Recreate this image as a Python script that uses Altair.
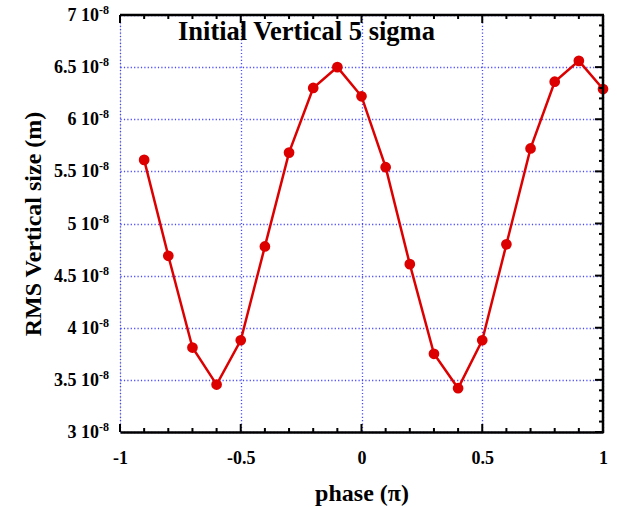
import altair as alt
import pandas as pd

# ---- data ----
phase = [-0.9, -0.8, -0.7, -0.6, -0.5, -0.4, -0.3, -0.2, -0.1, 0.0,
         0.1, 0.2, 0.3, 0.4, 0.5, 0.6, 0.7, 0.8, 0.9, 1.0]
rms_size = [5.61e-8, 4.69e-8, 3.81e-8, 3.455e-8, 3.88e-8, 4.78e-8, 5.68e-8, 6.30e-8,
            6.50e-8, 6.22e-8, 5.54e-8, 4.61e-8, 3.75e-8, 3.42e-8, 3.88e-8, 4.80e-8,
            5.72e-8, 6.36e-8, 6.56e-8, 6.29e-8]

x_major = [-1, -0.5, 0, 0.5, 1]
x_minor = [-0.9, -0.8, -0.7, -0.6, -0.4, -0.3, -0.2, -0.1,
           0.1, 0.2, 0.3, 0.4, 0.6, 0.7, 0.8, 0.9]
y_major = [3e-8, 3.5e-8, 4e-8, 4.5e-8, 5e-8, 5.5e-8, 6e-8, 6.5e-8, 7e-8]
y_label_main = ["3 10", "3.5 10", "4 10", "4.5 10", "5 10", "5.5 10", "6 10", "6.5 10", "7 10"]
y_label_exp = ["-8"] * 9
y_minor = [v * 1e-9 for v in range(31, 70) if v % 5 != 0]

title_text = ["Initial Vertical 5 sigma"]
x_title = "phase (\u03c0)"
y_title = "RMS Vertical size (m)"

FONT = "Liberation Serif"
RED = "#dd0000"
GRID = "#2a2aff"
W, H = 483, 417

df = pd.DataFrame({"phase": phase, "size": rms_size})
xs = alt.Scale(domain=[-1, 1], nice=False, zero=False)
ys = alt.Scale(domain=[3e-8, 7e-8], nice=False, zero=False)

x_axis = alt.Axis(values=x_major, ticks=False, domainColor="black", domainWidth=2.5,
                  labelFont=FONT, labelFontSize=18, labelFontWeight="bold", labelColor="black",
                  labelPadding=17, labelExpr="'' + datum.value", labelFlush=False,
                  title=x_title, titleFont=FONT, titleFontSize=24, titleFontWeight="bold",
                  titleColor="black", titleX=W / 2, titleY=68, titleBaseline="alphabetic",
                  grid=True, gridColor=GRID, gridDash=[1.2, 2.2], gridWidth=1.3, gridOpacity=0.85)
y_axis = alt.Axis(values=y_major, ticks=False, domain=False, labels=False,
                  title=y_title, titleFont=FONT, titleFontSize=24, titleFontWeight="bold",
                  titleColor="black", titleX=-80, titleY=H / 2, titleBaseline="alphabetic",
                  titleAngle=270,
                  grid=True, gridColor=GRID, gridDash=[1.2, 2.2], gridWidth=1.3, gridOpacity=0.85)

line = alt.Chart(df).mark_line(color=RED, strokeWidth=2.5).encode(
    x=alt.X("phase:Q", scale=xs, axis=x_axis),
    y=alt.Y("size:Q", scale=ys, axis=y_axis),
)
pts = alt.Chart(df).mark_point(filled=True, color=RED, size=115, opacity=1).encode(
    x=alt.X("phase:Q", scale=xs), y=alt.Y("size:Q", scale=ys))

# frame lines (top and right)
one = pd.DataFrame({"a": [0]})
frame_top = alt.Chart(one).mark_rule(color="black", strokeWidth=2.5).encode(
    x=alt.value(0), x2=alt.value(W + 1), y=alt.value(0))
frame_right = alt.Chart(one).mark_rule(color="black", strokeWidth=2.5).encode(
    x=alt.value(W), y=alt.value(0), y2=alt.value(H + 1))

# inward ticks
dxM = pd.DataFrame({"t": x_major})
dxm = pd.DataFrame({"t": x_minor})
dyM = pd.DataFrame({"t": y_major})
dym = pd.DataFrame({"t": y_minor})
tick_style = dict(color="black", strokeWidth=2)
bt_major = alt.Chart(dxM).mark_rule(**tick_style).encode(
    x=alt.X("t:Q", scale=xs), y=alt.value(H), y2=alt.value(H - 8))
bt_minor = alt.Chart(dxm).mark_rule(**tick_style).encode(
    x=alt.X("t:Q", scale=xs), y=alt.value(H), y2=alt.value(H - 4))
tp_major = alt.Chart(dxM).mark_rule(**tick_style).encode(
    x=alt.X("t:Q", scale=xs), y=alt.value(0), y2=alt.value(8))
tp_minor = alt.Chart(dxm).mark_rule(**tick_style).encode(
    x=alt.X("t:Q", scale=xs), y=alt.value(0), y2=alt.value(4))
rt_major = alt.Chart(dyM).mark_rule(**tick_style).encode(
    y=alt.Y("t:Q", scale=ys), x=alt.value(W), x2=alt.value(W - 8))
rt_minor = alt.Chart(dym).mark_rule(**tick_style).encode(
    y=alt.Y("t:Q", scale=ys), x=alt.value(W), x2=alt.value(W - 4))

# y tick labels with superscript exponent
dlab = pd.DataFrame({"v": y_major, "m": y_label_main, "e": y_label_exp})
lab_main = alt.Chart(dlab).mark_text(font=FONT, fontSize=18, fontWeight="bold", color="black",
                                     align="right", baseline="middle", dy=1).encode(
    y=alt.Y("v:Q", scale=ys), x=alt.value(-21), text="m:N")
lab_exp = alt.Chart(dlab).mark_text(font=FONT, fontSize=12, fontWeight="bold", color="black",
                                    align="left", baseline="alphabetic", dy=-1).encode(
    y=alt.Y("v:Q", scale=ys), x=alt.value(-21), text="e:N")

# in-plot title
title = alt.Chart(pd.DataFrame({"t": title_text})).mark_text(
    font=FONT, fontSize=26.5, fontWeight="bold", color="black",
    align="left", baseline="alphabetic").encode(
    x=alt.value(58), y=alt.value(25), text="t:N")

chart = alt.layer(
    line, pts, frame_top, frame_right,
    bt_major, bt_minor, tp_major, tp_minor, rt_major, rt_minor,
    lab_main, lab_exp, title,
).properties(
    width=W, height=H,
    autosize=alt.AutoSizeParams(type="none"),
    padding={"left": 120, "top": 15, "right": 14, "bottom": 75},
).configure_view(stroke=None).configure(background="white")

chart.save("out.html", embed_options={"renderer": "svg", "actions": False})
